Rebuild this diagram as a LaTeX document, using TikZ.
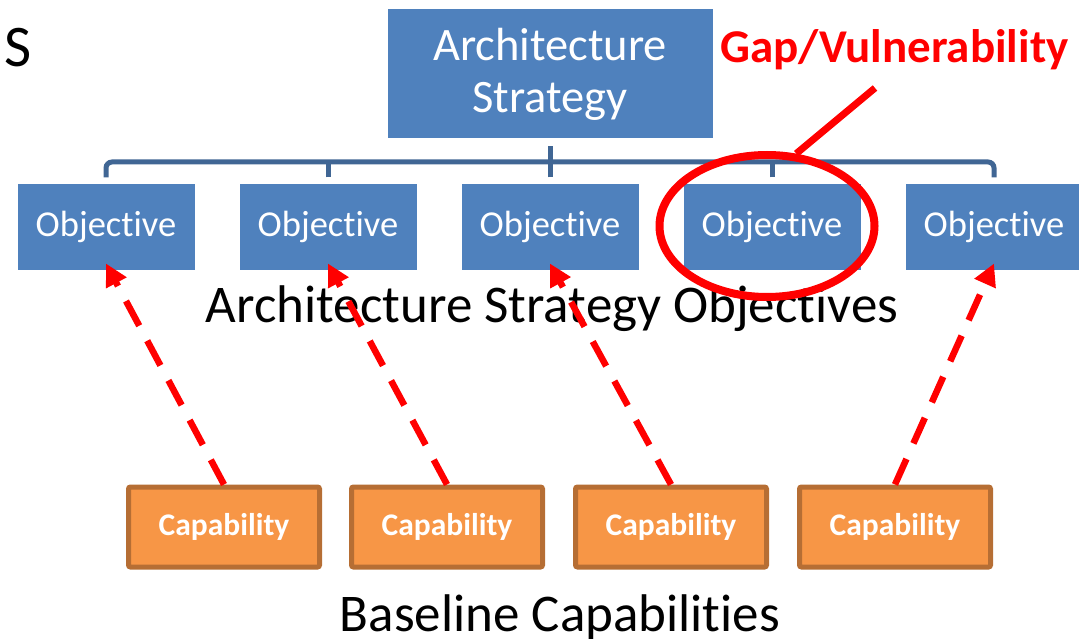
\documentclass[tikz,border=0pt]{standalone}
\usepackage{fontspec}
\setmainfont[Ligatures=NoCommon]{Carlito}
\usetikzlibrary{arrows.meta,shapes.geometric}
\definecolor{objblue}{RGB}{79,129,189}
\definecolor{treeblue}{RGB}{64,102,148}
\definecolor{capfill}{RGB}{247,150,70}
\definecolor{capedge}{RGB}{182,110,52}

\begin{document}
\begin{tikzpicture}[x=1pt,y=-1pt,
  stratbox/.style={fill=objblue,draw=white,line width=1pt,text=white,align=center,
    minimum width=326pt,minimum height=130pt,font=\fontsize{46.5}{52}\selectfont},
  objbox/.style={fill=objblue,draw=white,line width=1pt,text=white,
    minimum width=178pt,minimum height=86pt,font=\fontsize{36.5}{43}\selectfont},
  capbox/.style={fill=capfill,draw=capedge,line width=5pt,rounded corners=2pt,text=white,
    minimum width=191pt,minimum height=80pt,font=\fontsize{31.5}{37}\selectfont\bfseries},
  treeline/.style={draw=treeblue,line width=5pt},
  linkarrow/.style={draw=red,line width=6.5pt,dash pattern=on 28pt off 17pt,
    -{Triangle[length=22pt,width=22pt]}},
  caption/.style={anchor=base,font=\fontsize{53}{64}\selectfont}]
 \clip (0,0) rectangle (1079,639);
 \node[anchor=base west,font=\fontsize{59}{70}\selectfont] (sfrag) at (1,67) {S};
 \node[stratbox] (strat) at (550,74) {Architecture\\Strategy};
 \foreach \i/\x in {1/106,2/328,3/550,4/772,5/994}{%
   \node[objbox] (obj\i) at (\x,227) {Objective};
 }
 % tree under the strategy box
 \coordinate (hub) at (550,162);
 \draw[treeline,rounded corners=6pt] ([yshift=6pt]obj1.north) |- (hub) -| ([yshift=6pt]obj5.north);
 \foreach \i in {2,3,4}{%
   \draw[treeline] ([yshift=6pt]obj\i.north) -- (obj\i.north |- hub);
 }
 \draw[treeline] ([yshift=-7pt]strat.south) -- (hub);
 \node[caption] (objcap) at (552,322) {Architecture Strategy Objectives};
 \foreach \i/\x in {1/224,2/447,3/671,4/895}{%
   \node[capbox] (cap\i) at (\x,527) {Capability};
 }
 \node[caption] (basecap) at (560,631) {Baseline Capabilities};
 \foreach \c/\o in {1/1,2/2,3/3,4/5}{%
   \draw[linkarrow] (cap\c.north) -- ([yshift=7pt]obj\o.south);
 }
 % the missing link
 \node[draw=red,line width=8pt,ellipse,minimum width=215pt,minimum height=142pt] (ring) at (767,226) {};
 \node[anchor=base west,text=red,font=\fontsize{47}{56}\selectfont\bfseries] (gap) at (717,63) {Gap/Vulnerability};
 \coordinate (gaptail) at (875,88);
 \draw[red,line width=7pt] (ring.68) -- (gaptail);
\end{tikzpicture}
\end{document}
